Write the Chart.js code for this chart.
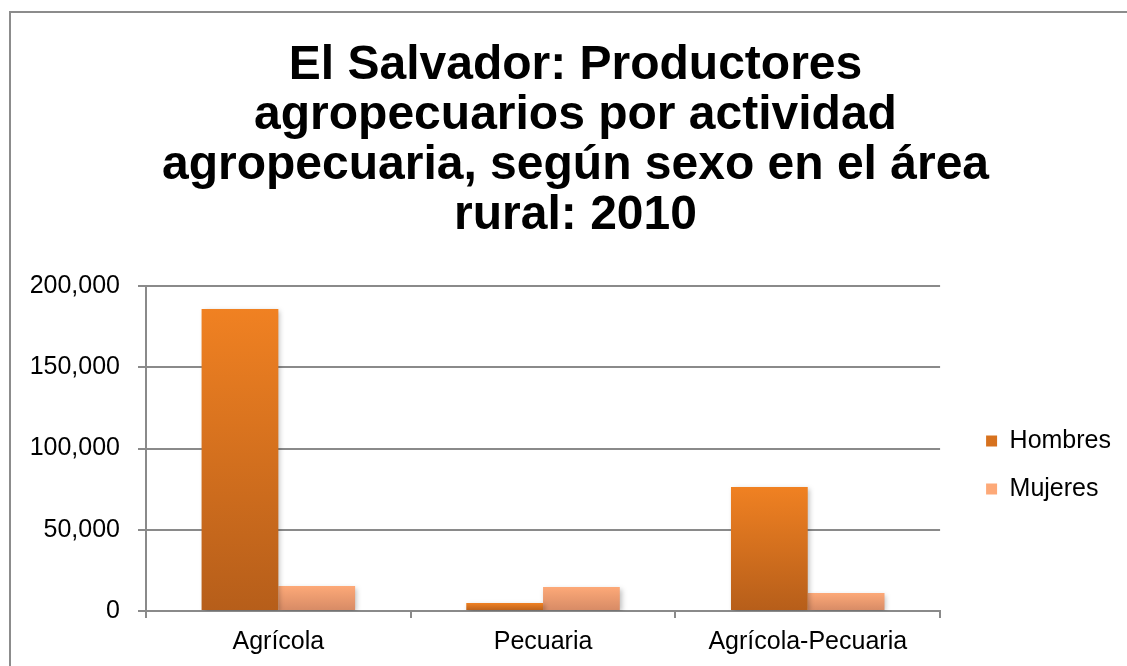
<!DOCTYPE html>
<html lang="es">
<head>
<meta charset="utf-8">
<title>El Salvador: Productores agropecuarios</title>
<script src="https://cdn.jsdelivr.net/npm/chart.js@4/dist/chart.umd.min.js"></script>
<style>
    html, body { margin: 0; padding: 0; background: #fff; overflow: hidden; }
    #marco { position: absolute; left: 9px; top: 11px; width: 1200px; height: 700px;
             border-left: 2px solid #8c8c8c; border-top: 2px solid #8c8c8c; }
    #contenedor { position: absolute; left: 0; top: 0; width: 1127px; height: 666px; }
</style>
</head>
<body>
<div id="marco"></div>
<div id="contenedor"><canvas id="graficoProductores"></canvas></div>
<script>
const tituloLineas = ['El Salvador: Productores', 'agropecuarios por actividad', 'agropecuaria, según sexo en el área', 'rural: 2010'];
const actividades = ['Agrícola', 'Pecuaria', 'Agrícola-Pecuaria'];
const hombres = [185800, 4900, 76300];
const mujeres = [15400, 14800, 11100];
const ejeMin = 0;
const ejeMax = 200000;
const ejePaso = 50000;

const fuente = "'Liberation Sans', Arial, sans-serif";
const gris = '#8a8a8a';

// degradado vertical por barra, claro arriba y oscuro abajo
function degradado(arriba, abajo, medio) {
    return function (context) {
        const chart = context.chart;
        const { ctx, chartArea, scales } = chart;
        if (!chartArea || context.type !== 'data') {
            return medio;
        }
        const y0 = scales.y.getPixelForValue(0);
        const y1 = scales.y.getPixelForValue(context.raw);
        const g = ctx.createLinearGradient(0, y1, 0, y0);
        g.addColorStop(0, arriba);
        g.addColorStop(1, abajo);
        return g;
    };
}

const sombraBarras = {
    id: 'sombraBarras',
    beforeDatasetsDraw(chart) {
        const ctx = chart.ctx;
        ctx.save();
        ctx.shadowColor = 'rgba(0, 0, 0, 0.25)';
        ctx.shadowBlur = 5;
        ctx.shadowOffsetX = 2;
        ctx.shadowOffsetY = 2;
    },
    afterDatasetsDraw(chart) {
        chart.ctx.restore();
    }
};

const ctx = document.getElementById('graficoProductores').getContext('2d');

new Chart(ctx, {
    type: 'bar',
    data: {
        labels: actividades,
        datasets: [{
            label: 'Hombres',
            data: hombres,
            backgroundColor: degradado('#f08122', '#b65e1a', '#d87020'),
            categoryPercentage: 0.58,
            barPercentage: 1
        }, {
            label: 'Mujeres',
            data: mujeres,
            backgroundColor: degradado('#fda978', '#d68a65', '#f09d70'),
            categoryPercentage: 0.58,
            barPercentage: 1
        }]
    },
    options: {
        responsive: true,
        maintainAspectRatio: false,
        animation: false,
        locale: 'en-US',
        layout: {
            padding: { top: 0, left: 30, right: 6, bottom: 0 }
        },
        scales: {
            x: {
                grid: {
                    display: true,
                    drawOnChartArea: false,
                    drawTicks: true,
                    tickLength: 7,
                    color: gris,
                    lineWidth: 2
                },
                border: { display: true, color: gris, width: 2 },
                ticks: {
                    color: '#000',
                    padding: 10,
                    font: { family: fuente, size: 25, lineHeight: 1.12 }
                }
            },
            y: {
                min: ejeMin,
                max: ejeMax,
                grid: {
                    color: gris,
                    lineWidth: 2,
                    tickLength: 8
                },
                border: { display: true, color: gris, width: 2 },
                ticks: {
                    stepSize: ejePaso,
                    color: '#000',
                    padding: 18,
                    font: { family: fuente, size: 25 }
                },
                afterFit: function (scale) { scale.width = 116; }
            },
            espacio: {
                type: 'linear',
                position: 'right',
                display: true,
                grid: { display: false },
                border: { display: false },
                ticks: { display: false },
                afterFit: function (scale) { scale.width = 23; }
            }
        },
        plugins: {
            title: {
                display: true,
                text: tituloLineas,
                color: '#000',
                font: { family: fuente, size: 48, weight: 'bold', lineHeight: '50px' },
                padding: { top: 41, bottom: 45 }
            },
            legend: {
                position: 'right',
                fullSize: false,
                title: {
                    display: true,
                    text: '',
                    font: { size: 10, lineHeight: 1.2 },
                    padding: { top: 21, bottom: 0 }
                },
                labels: {
                    boxWidth: 11,
                    boxHeight: 11,
                    padding: 23,
                    color: '#000',
                    font: { family: fuente, size: 25 }
                }
            },
            tooltip: { enabled: false }
        }
    },
    plugins: [sombraBarras]
});
</script>
</body>
</html>
